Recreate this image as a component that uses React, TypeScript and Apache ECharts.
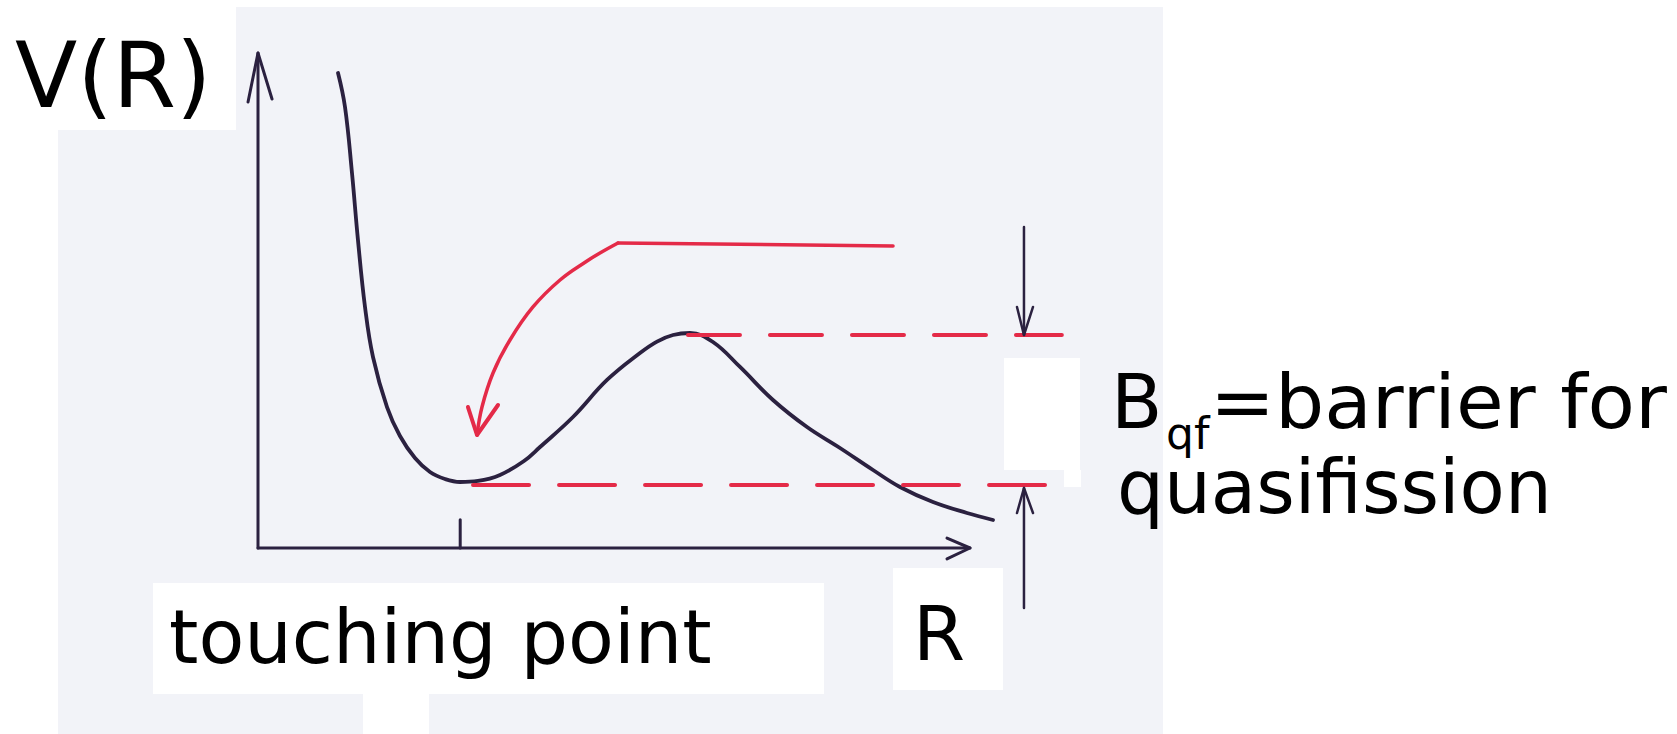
import React, { useEffect, useRef } from "react";
import * as echarts from "echarts";

// ---- data (R, V) in arbitrary sketch units; origin = axes crossing ----
const potentialCurve: [number, number][] = [
  [1.124, 9.596], [1.222, 8.909], [1.32, 7.576], [1.404, 6.222], [1.503, 4.869],
  [1.615, 3.859], [1.812, 2.848], [1.994, 2.263], [2.205, 1.818], [2.416, 1.535],
  [2.626, 1.394], [2.837, 1.333], [3.09, 1.354], [3.399, 1.475], [3.736, 1.758],
  [3.961, 2.04], [4.424, 2.646], [4.902, 3.394], [5.365, 3.939], [5.604, 4.17],
  [5.829, 4.303], [6.067, 4.343], [6.39, 4.162], [6.77, 3.657], [7.233, 2.99],
  [7.711, 2.444], [8.174, 2.02], [8.638, 1.576], [9.017, 1.232], [9.48, 0.929],
  [9.958, 0.707], [10.323, 0.566],
];
const energyLevel: [number, number][] = [[5.056, 6.162], [8.919, 6.1]];
const captureCurve: [number, number][] = [
  [5.056, 6.162], [4.803, 5.96], [4.621, 5.798], [4.242, 5.414], [3.862, 4.869],
  [3.539, 4.202], [3.301, 3.535], [3.146, 2.848], [3.076, 2.283],
];
const captureHead: [number, number][] = [[2.949, 2.848], [3.076, 2.283], [3.371, 2.889]];
const barrierTop: [number, number][] = [[6.039, 4.303], [11.29, 4.303]];
const pocketBottom: [number, number][] = [[3.02, 1.273], [11.29, 1.273]];
const downShaft: [number, number][] = [[10.758, 6.485], [10.758, 4.303]];
const downHead: [number, number][] = [[10.66, 4.869], [10.758, 4.303], [10.885, 4.869]];
const upShaft: [number, number][] = [[10.758, -1.212], [10.758, 1.212]];
const upHead: [number, number][] = [[10.66, 0.707], [10.758, 1.212], [10.885, 0.707]];
const yAxisShaft: [number, number][] = [[0, 0], [0, 10]];
const xAxisShaft: [number, number][] = [[0, 0], [10, 0]];
const yAxisHead: [number, number][] = [[-0.14, 9.01], [0, 10], [0.197, 9.07]];
const xAxisHead: [number, number][] = [[9.677, 0.2], [10, 0], [9.677, -0.22]];
const touchingTick: [number, number][] = [[2.84, 0], [2.84, 0.57]];

const labelV = "V(R)";
const labelR = "R";
const labelTouch = "touching point";
const labelB = "B";
const labelSub = "qf";
const labelLine1 = "=barrier for";
const labelLine2 = "quasifission";

// frame: where the axes' origin sits and how many pixels one unit spans
const W = 1677;
const H = 734;
const ORIGIN_X = 258;
const ORIGIN_Y = 548;
const PX_R = 71.2;
const PX_V = 49.5;

const INK = "#2b2140";
const RED = "#e42a48";
const PAPER = "#f2f3f8";
const FONT = '"DejaVu Sans", Verdana, sans-serif';

function lineSeries(data: [number, number][], color: string, width: number, opts: any = {}) {
  return {
    type: "line",
    data,
    showSymbol: false,
    symbol: "none",
    clip: false,
    silent: true,
    smooth: opts.smooth ?? false,
    lineStyle: {
      color,
      width,
      type: opts.dash ?? "solid",
      cap: "round",
      join: "round",
    },
    z: 3,
  };
}

export default function App() {
  const ref = useRef<HTMLDivElement>(null);
  useEffect(() => {
    if (!ref.current) return;
    const chart = echarts.init(ref.current, undefined, { renderer: "svg" });
    const txt = (text: string, x: number, y: number, size: number, scaleX = 1, lh?: number) => ({
      type: "text",
      x,
      y,
      scaleX,
      z: 10,
      style: {
        text,
        font: `${size}px ${FONT}`,
        fill: "#000",
        verticalAlign: "middle",
        align: "left",
        lineHeight: lh ?? Math.round(size * 0.95),
      },
    });
    const box = (x: number, y: number, w: number, h: number, fill: string, z2: number) => ({
      type: "rect",
      z: -1,
      z2,
      shape: { x, y, width: w, height: h },
      style: { fill },
      silent: true,
    });
    const hiddenAxis = {
      type: "value",
      axisLine: { show: false },
      axisTick: { show: false },
      axisLabel: { show: false },
      splitLine: { show: false },
    };
    chart.setOption({
      animation: false,
      backgroundColor: "#ffffff",
      grid: { left: 0, top: 0, width: W, height: H, containLabel: false },
      xAxis: { ...hiddenAxis, min: -ORIGIN_X / PX_R, max: (W - ORIGIN_X) / PX_R },
      yAxis: { ...hiddenAxis, min: -(H - ORIGIN_Y) / PX_V, max: ORIGIN_Y / PX_V },
      graphic: {
        elements: [
          box(58, 7, 1105, 727, PAPER, 0),
          box(0, 0, 236, 130, "#ffffff", 1),
          box(153, 583, 671, 111, "#ffffff", 1),
          box(363, 694, 66, 40, "#ffffff", 1),
          box(893, 568, 110, 122, "#ffffff", 1),
          box(1004, 358, 76, 112, "#ffffff", 1),
          box(1064, 470, 17, 17, "#ffffff", 1),
          txt(labelV, 15, 75, 91),
          txt(labelTouch, 169, 637, 75),
          txt(labelR, 913, 634, 75),
          txt(labelB, 1111, 402, 75, 1, 70),
          txt(labelSub, 1166, 433, 44, 1, 36),
          txt(labelLine1, 1210, 402, 75, 1.035, 70),
          txt(labelLine2, 1117, 487, 74, 1, 70),
        ],
      },
      series: [
        lineSeries(xAxisShaft, INK, 3),
        lineSeries(yAxisShaft, INK, 3),
        lineSeries(yAxisHead, INK, 3),
        lineSeries(xAxisHead, INK, 3),
        lineSeries(touchingTick, INK, 3),
        lineSeries(potentialCurve, INK, 3.8, { smooth: 0.4 }),
        lineSeries(energyLevel, RED, 3.5),
        lineSeries(captureCurve, RED, 3.5, { smooth: 0.4 }),
        lineSeries(captureHead, RED, 4),
        lineSeries(barrierTop, RED, 4, { dash: [52, 30] }),
        lineSeries(pocketBottom, RED, 4, { dash: [56, 30] }),
        lineSeries(downShaft, INK, 2.5),
        lineSeries(downHead, INK, 2.5),
        lineSeries(upShaft, INK, 2.5),
        lineSeries(upHead, INK, 2.5),
      ],
    });
    return () => chart.dispose();
  }, []);
  return (
    <div
      ref={ref}
      style={{ position: "absolute", left: 0, top: 0, width: W, height: H }}
    />
  );
}
